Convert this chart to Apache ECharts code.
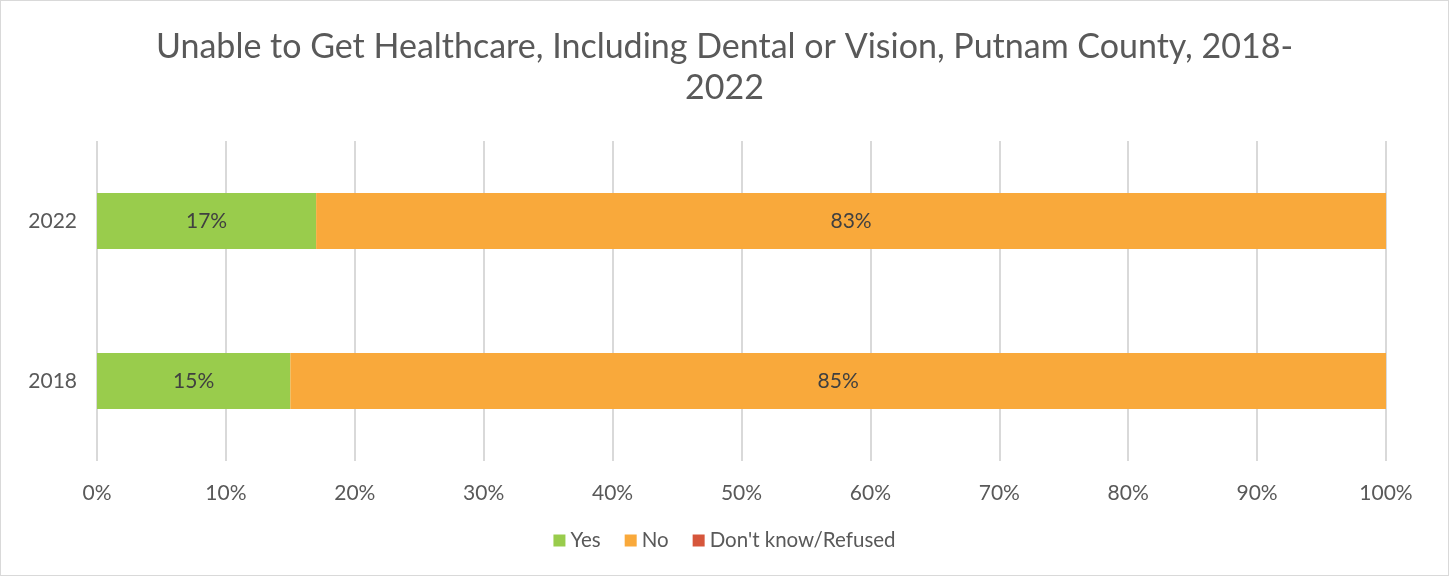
<!DOCTYPE html>
<html><head><meta charset="utf-8">
<script src="https://cdn.jsdelivr.net/npm/echarts@6/dist/echarts.min.js"></script>
<style>html,body{margin:0;padding:0;background:#fff}#c{width:1447px;height:574px;border:1px solid #d9d9d9}</style>
</head><body><div id="c"></div>
<script>
const categories = ['2018', '2022'];
const yesValues = [15, 17];
const noValues = [85, 83];
const dkValues = [0, 0];
const xTicks = [0,10,20,30,40,50,60,70,80,90,100];
const titleText = 'Unable to Get Healthcare, Including Dental or Vision, Putnam County, 2018-\n2022';

const font = 'Lato';
const chart = echarts.init(document.getElementById('c'));
const lbl = {show:true, position:'inside', color:'#404040', fontSize:21, fontFamily:font,
  formatter: p => p.value > 0 ? p.value + '%' : ''};
chart.setOption({
  animation:false,
  title:{text:titleText, left:'center', top:21, textStyle:{fontFamily:font, fontSize:34, fontWeight:'normal', color:'#595959', lineHeight:41}},
  legend:{bottom:19, left:'center', itemWidth:12, itemHeight:12, itemGap:24, icon:'rect',
    textStyle:{fontFamily:font, fontSize:20.5, color:'#595959'}},
  grid:{left:96, right:62, top:140, bottom:114},
  xAxis:{type:'value', min:0, max:100, interval:10,
    axisLabel:{formatter:'{value}%', fontFamily:font, fontSize:21, color:'#595959', margin:22},
    splitLine:{lineStyle:{color:'#d9d9d9', width:2}}, axisLine:{show:false}, axisTick:{show:false}},
  yAxis:{type:'category', data:categories,
    axisLabel:{fontFamily:font, fontSize:21, color:'#595959', margin:20},
    axisLine:{show:false}, axisTick:{show:false}},
  series:[
    {name:'Yes', type:'bar', stack:'a', data:yesValues, barWidth:'35%', itemStyle:{color:'#99CC4C'}, label:lbl},
    {name:'No', type:'bar', stack:'a', data:noValues, itemStyle:{color:'#F9A93B'}, label:lbl},
    {name:"Don't know/Refused", type:'bar', stack:'a', data:dkValues, itemStyle:{color:'#D6563B'}, label:lbl}
  ]
});
</script></body></html>
